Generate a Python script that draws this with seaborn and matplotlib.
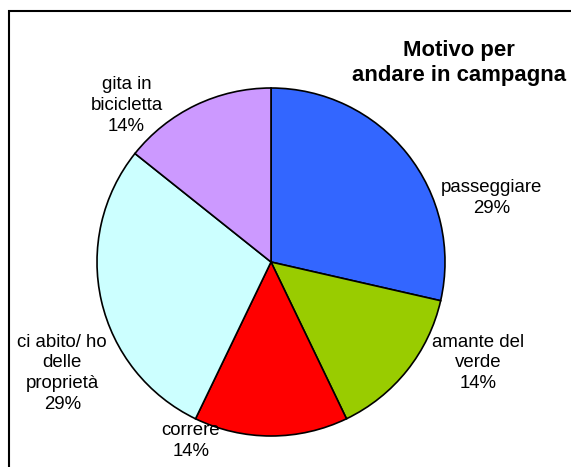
import matplotlib.pyplot as plt
import seaborn as sns
from matplotlib.patches import Rectangle

# Data
motivi = ['passeggiare', 'amante del\nverde', 'correre',
          'ci abito/ ho\ndelle\nproprietà', 'gita in\nbicicletta']
conteggi = [2, 1, 1, 2, 1]
colori = ['#3366FF', '#99CC00', '#FF0000', '#CCFFFF', '#CC99FF']
# label positions (in pie radii), Excel-like placement
label_pos = [(1.27, 0.37), (1.19, -0.58), (-0.46, -1.03),
             (-1.20, -0.64), (-0.83, 0.90)]

sns.set_theme(style="white")
plt.rcParams['font.family'] = ['Liberation Sans', 'DejaVu Sans']

fig = plt.figure(figsize=(5.71, 4.67), dpi=100)
W, H = 571, 467
cx, cy, r = 271, 262, 174
ax = fig.add_axes([(cx - r) / W, 1 - (cy + r) / H, 2 * r / W, 2 * r / H])

wedges, _ = ax.pie(conteggi, colors=colori, startangle=90, counterclock=False,
                   radius=1, wedgeprops=dict(edgecolor='black', linewidth=1.2))
ax.set_xlim(-1, 1)
ax.set_ylim(-1, 1)
ax.set_aspect('equal')
ax.axis('off')

totale = sum(conteggi)
for nome, val, (lx, ly) in zip(motivi, conteggi, label_pos):
    pct = round(100 * val / totale)
    ax.text(lx, ly, f'{nome}\n{pct}%', ha='center', va='center',
            fontsize=13.4, linespacing=1.3, color='black', clip_on=False)

fig.text(459 / W, 1 - 63 / H, 'Motivo per\nandare in campagna', ha='center',
         va='center', fontsize=15.9, fontweight='bold', linespacing=1.25,
         color='black')

# chart area frame (only top and left edges visible)
fig.add_artist(Rectangle((9 / W, -0.1), 1.2, 1 - 11 / H + 0.1,
                         transform=fig.transFigure, fill=False,
                         edgecolor='black', linewidth=1.5))

plt.savefig('out.png', dpi=100)
